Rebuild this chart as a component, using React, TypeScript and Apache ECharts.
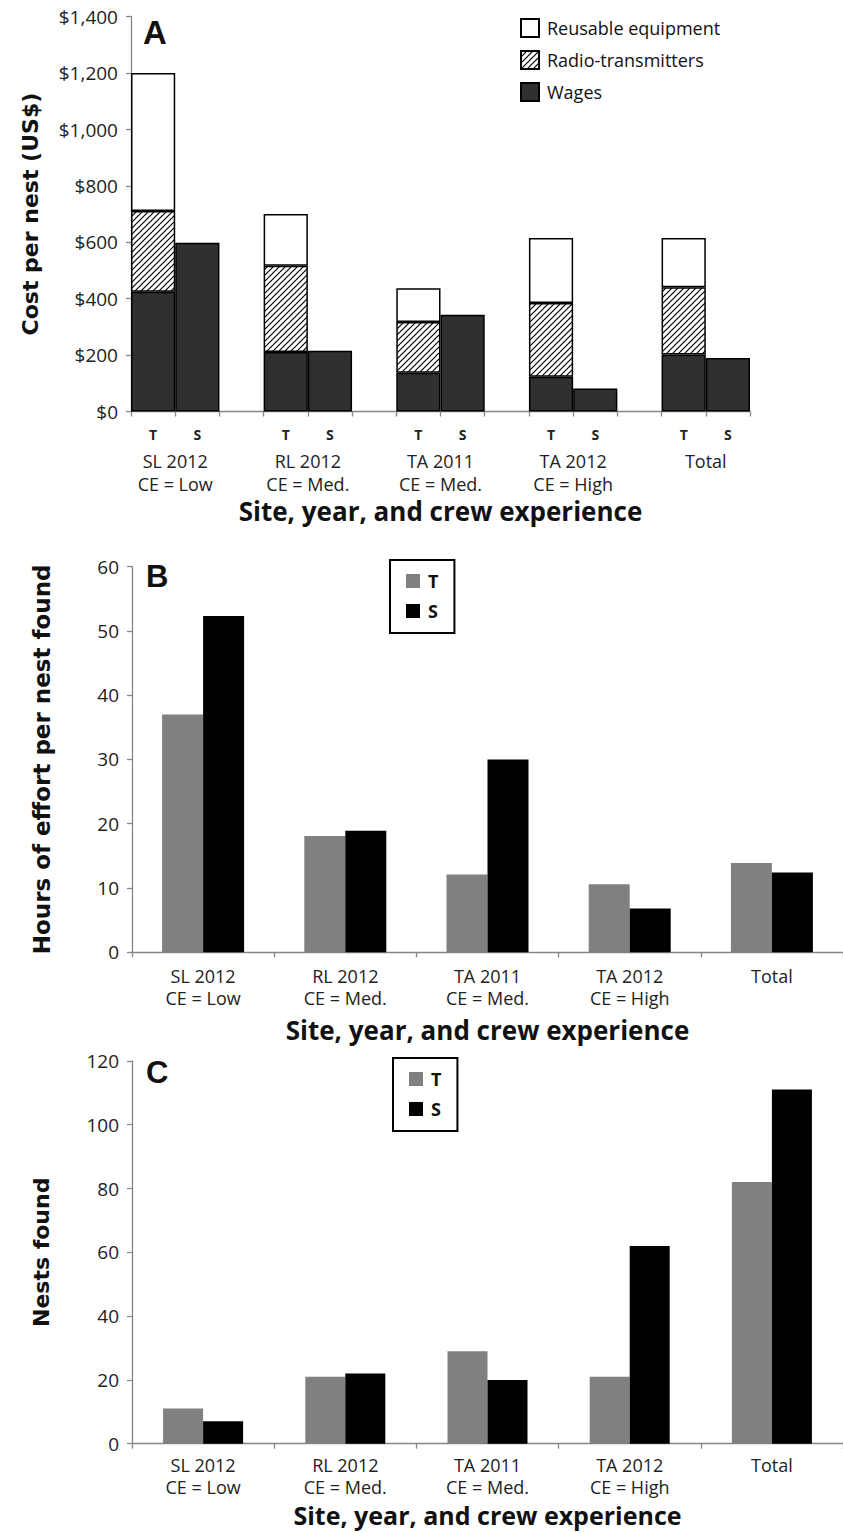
import React, { useEffect, useRef } from 'react';
import * as echarts from 'echarts';

// ---------- data ----------
const groups = ['SL 2012\nCE = Low', 'RL 2012\nCE = Med.', 'TA 2011\nCE = Med.', 'TA 2012\nCE = High', 'Total'];
const slotLetters = ['T', 'S'];

// Panel A: cost per nest (US$), stacked parts
const wagesT = [425, 211, 137, 123, 202];
const radioT = [286, 306, 180, 262, 239];
const reusableT = [489, 183, 120, 230, 174];
const wagesS = [598, 215, 343, 82, 190];
const costTicks = ['$0', '$200', '$400', '$600', '$800', '$1,000', '$1,200', '$1,400'];

// Panel B: hours of effort per nest found
const hoursT = [37.0, 18.1, 12.1, 10.6, 13.9];
const hoursS = [52.3, 18.9, 30.0, 6.8, 12.4];

// Panel C: nests found
const nestsT = [11, 21, 29, 21, 82];
const nestsS = [7, 22, 20, 62, 111];

const xTitle = 'Site, year, and crew experience';

// ---------- helpers ----------
function slots(): string[] {
  const out: string[] = [];
  groups.forEach((_, i) => {
    out.push(slotLetters[0], slotLetters[1]);
    if (i < groups.length - 1) out.push('');
  });
  return out;
}
function toSlots(tVals: (number | null)[] | null, sVals: (number | null)[] | null) {
  const out: (number | null)[] = [];
  groups.forEach((_, i) => {
    out.push(tVals ? tVals[i] : null, sVals ? sVals[i] : null);
    if (i < groups.length - 1) out.push(null);
  });
  return out;
}
function makeHatch() {
  const s = 6;
  const c = document.createElement('canvas');
  c.width = s;
  c.height = s;
  const g = c.getContext('2d')!;
  g.fillStyle = '#fff';
  g.fillRect(0, 0, s, s);
  g.strokeStyle = '#000';
  g.lineWidth = 1.2;
  g.beginPath();
  g.moveTo(0, s);
  g.lineTo(s, 0);
  g.moveTo(-1, 1);
  g.lineTo(1, -1);
  g.moveTo(s - 1, s + 1);
  g.lineTo(s + 1, s - 1);
  g.stroke();
  return c;
}

const axisGray = '#868686';
const font = "'Open Sans', sans-serif";
const titleFont = "'DejaVu Sans', sans-serif";
const letterFont = "'Liberation Sans', Arial, sans-serif";

function yAxisBase(gridIndex: number, min: number, max: number, interval: number, name: string, nameGap: number, nameSize: number, formatter?: any) {
  return {
    gridIndex,
    type: 'value',
    min,
    max,
    interval,
    name,
    nameLocation: 'middle',
    nameGap,
    nameTextStyle: { fontFamily: titleFont, fontWeight: 'bold', fontSize: nameSize, color: '#111' },
    axisLine: { show: true, lineStyle: { color: axisGray, width: 1.3 } },
    axisTick: { show: true, length: 5, lineStyle: { color: axisGray, width: 1.3 } },
    splitLine: { show: false },
    axisLabel: { fontFamily: font, fontSize: 19, color: '#222', margin: 13, formatter },
  };
}

function tsLegend(left: number, top: number) {
  return {
    orient: 'vertical',
    left,
    top,
    padding: [12, 16, 13, 16],
    borderColor: '#000',
    borderWidth: 2,
    itemWidth: 14,
    itemHeight: 14,
    itemGap: 12,
    icon: 'rect',
    data: ['T', 'S'],
    textStyle: { fontFamily: font, fontSize: 18, fontWeight: 'bold', color: '#111', padding: [0, 0, 0, 3] },
  };
}

function xTitleStyle(size: number) {
  return { fontFamily: font, fontWeight: 'bold', fontSize: size, lineHeight: size, color: '#111' };
}

function buildOption() {
  const hatch = makeHatch();
  const aSlots = slots();
  const groupPos = groups.map((_, i) => i * 3 + 1);
  const border = { borderColor: '#000', borderWidth: 1.5 };

  return {
    animation: false,
    backgroundColor: '#fff',
    title: [
      { text: 'A', left: 143, top: 16, padding: 0, textStyle: { fontFamily: letterFont, fontWeight: 'bold', fontSize: 33, color: '#111' } },
      { text: 'B', left: 146, top: 561, padding: 0, textStyle: { fontFamily: letterFont, fontWeight: 'bold', fontSize: 31, color: '#111' } },
      { text: 'C', left: 146, top: 1057, padding: 0, textStyle: { fontFamily: letterFont, fontWeight: 'bold', fontSize: 31, color: '#111' } },
    ],
    legend: [
      {
        orient: 'vertical',
        left: 520,
        top: 18,
        padding: 0,
        itemWidth: 18,
        itemHeight: 18,
        itemGap: 12,
        icon: 'rect',
        data: ['Reusable equipment', 'Radio-transmitters', 'Wages'],
        textStyle: { fontFamily: font, fontSize: 18, color: '#111', padding: [0, 0, 0, 3] },
      },
      tsLegend(390, 560),
      tsLegend(393, 1058),
    ],
    grid: [
      { left: 131, top: 16.7, width: 619, height: 394.8 },
      { left: 132, top: 566.5, width: 725, height: 385.8 },
      { left: 132, top: 1060.9, width: 715, height: 382.8 },
    ],
    xAxis: [
      {
        gridIndex: 0,
        type: 'category',
        data: aSlots,
        axisLine: { show: true, lineStyle: { color: axisGray, width: 1.3 } },
        axisTick: { show: true, interval: 0, length: 5, lineStyle: { color: axisGray, width: 1.3 } },
        axisLabel: { interval: 0, fontFamily: font, fontWeight: 'bold', fontSize: 14, color: '#222', margin: 16 },
      },
      {
        gridIndex: 0,
        type: 'value',
        position: 'bottom',
        min: 0,
        max: aSlots.length,
        axisLine: { show: false },
        axisTick: { show: false },
        splitLine: { show: false },
        axisLabel: {
          customValues: groupPos,
          formatter: (v: number) => groups[Math.round((v - 1) / 3)] ?? '',
          fontFamily: font,
          fontSize: 18,
          lineHeight: 22.7,
          color: '#222',
          margin: 38,
        },
        name: xTitle,
        nameLocation: 'middle',
        nameGap: 86,
        nameTextStyle: xTitleStyle(26),
      },
      {
        gridIndex: 1,
        type: 'category',
        data: groups,
        axisLine: { show: true, lineStyle: { color: axisGray, width: 1.3 } },
        axisTick: { show: true, interval: 0, length: 5, lineStyle: { color: axisGray, width: 1.3 } },
        axisLabel: { interval: 0, fontFamily: font, fontSize: 18, lineHeight: 22, color: '#222', margin: 13 },
        name: xTitle,
        nameLocation: 'middle',
        nameGap: 65,
        nameTextStyle: xTitleStyle(26),
      },
      {
        gridIndex: 2,
        type: 'category',
        data: groups,
        axisLine: { show: true, lineStyle: { color: axisGray, width: 1.3 } },
        axisTick: { show: true, interval: 0, length: 5, lineStyle: { color: axisGray, width: 1.3 } },
        axisLabel: { interval: 0, fontFamily: font, fontSize: 18, lineHeight: 21.5, color: '#222', margin: 11 },
        name: xTitle,
        nameLocation: 'middle',
        nameGap: 59,
        nameTextStyle: xTitleStyle(25),
      },
    ],
    yAxis: [
      yAxisBase(0, 0, 1400, 200, 'Cost per nest (US$)', 90, 22, (v: number) => costTicks[Math.round(v / 200)]),
      yAxisBase(1, 0, 60, 10, 'Hours of effort per nest found', 79, 23),
      yAxisBase(2, 0, 120, 20, 'Nests found', 80, 22),
    ],
    series: [
      {
        name: 'Wages',
        type: 'bar',
        xAxisIndex: 0,
        yAxisIndex: 0,
        stack: 'cost',
        barCategoryGap: '0%',
        itemStyle: { color: '#303030', ...border },
        data: toSlots(wagesT, wagesS),
      },
      {
        name: 'Radio-transmitters',
        type: 'bar',
        xAxisIndex: 0,
        yAxisIndex: 0,
        stack: 'cost',
        barCategoryGap: '0%',
        itemStyle: { color: { image: hatch, repeat: 'repeat' }, ...border },
        data: toSlots(radioT, null),
      },
      {
        name: 'Reusable equipment',
        type: 'bar',
        xAxisIndex: 0,
        yAxisIndex: 0,
        stack: 'cost',
        barCategoryGap: '0%',
        itemStyle: { color: '#fff', ...border },
        data: toSlots(reusableT, null),
      },
      {
        name: 'T',
        type: 'bar',
        xAxisIndex: 2,
        yAxisIndex: 1,
        barWidth: 41,
        barGap: '0%',
        itemStyle: { color: '#808080' },
        data: hoursT,
      },
      {
        name: 'S',
        type: 'bar',
        xAxisIndex: 2,
        yAxisIndex: 1,
        barWidth: 41,
        barGap: '0%',
        itemStyle: { color: '#000' },
        data: hoursS,
      },
      {
        name: 'T',
        type: 'bar',
        xAxisIndex: 3,
        yAxisIndex: 2,
        barWidth: 40,
        barGap: '0%',
        itemStyle: { color: '#808080' },
        data: nestsT,
      },
      {
        name: 'S',
        type: 'bar',
        xAxisIndex: 3,
        yAxisIndex: 2,
        barWidth: 40,
        barGap: '0%',
        itemStyle: { color: '#000' },
        data: nestsS,
      },
    ],
  };
}

export default function App() {
  const ref = useRef<HTMLDivElement>(null);
  useEffect(() => {
    if (!ref.current) return;
    const chart = echarts.init(ref.current, null, { renderer: 'svg' });
    chart.setOption(buildOption() as any);
    return () => chart.dispose();
  }, []);
  return (
    <div
      ref={ref}
      style={{ position: 'absolute', left: 0, top: 0, width: 843, height: 1533, background: '#fff' }}
    />
  );
}
